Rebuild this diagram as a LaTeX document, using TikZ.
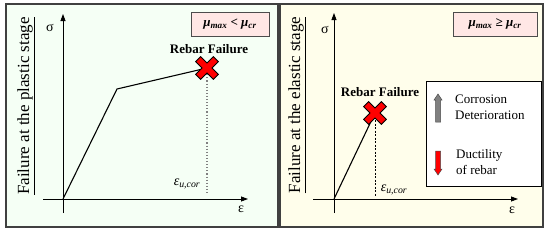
\documentclass[tikz,border=0pt]{standalone}
\usepackage{fontspec}
\setmainfont{Liberation Serif}
\usetikzlibrary{arrows.meta, positioning}

\begin{document}
\begin{tikzpicture}[
    x=1pt, y=-1pt,
    panel/.style={draw=black!75, line width=1.2pt},
    axis/.style={-{Triangle[length=7pt, width=5pt]}, line width=0.8pt},
    curve/.style={line width=1.1pt},
    condbox/.style={draw=black!70, line width=0.9pt, fill=orange!15!red!10, minimum height=24pt, inner sep=0pt, font=\fontsize{13}{15}\selectfont\bfseries\itshape},
    stagelabel/.style={rotate=90, font=\fontsize{17}{20}\selectfont},
    faillabel/.style={font=\fontsize{13}{15}\selectfont\bfseries},
    strainlabel/.style={font=\fontsize{14}{16}\selectfont\itshape},
    axislabel/.style={font=\fontsize{14}{16}\selectfont},
    legendtext/.style={align=left, anchor=west, inner sep=0pt, font=\fontsize{13}{16}\selectfont},
    failmark/.pic={\draw[fill=red, line width=0.9pt, rotate=45]
        (3.5,12.5) -- (-3.5,12.5) -- (-3.5,3.5) -- (-12.5,3.5) -- (-12.5,-3.5) -- (-3.5,-3.5)
        -- (-3.5,-12.5) -- (3.5,-12.5) -- (3.5,-3.5) -- (12.5,-3.5) -- (12.5,3.5) -- (3.5,3.5) -- cycle;},
    % block arrow pointing up (negative y), length given by #1
    blockarrow/.pic={\draw[draw=black!70, line width=0.5pt, pic actions]
        (-2.5,#1) -- (-2.5,-#1+6) -- (-4,-#1+6) -- (0,-#1) -- (4,-#1+6) -- (2.5,-#1+6) -- (2.5,#1) -- cycle;}
]
    \useasboundingbox (0,0) rectangle (550,233);

    % Panels
    \draw[panel, fill=green!4!white] (6,4) rectangle (278,227);
    \draw[panel, fill=yellow!8!white] (280,4) rectangle (543,227);

    % ---------- Left panel: plastic stage ----------
    \node[stagelabel] (stage1) at (26,106) {\underline{Failure at the plastic stage}};

    \coordinate (O1) at (63,199);
    \coordinate (ytop1) at (63,14);
    \coordinate (ybot1) at (63,213);
    \coordinate (xlft1) at (43,199);
    \coordinate (xrgt1) at (248,199);
    \draw[axis] (ybot1) -- (ytop1);
    \draw[axis] (xlft1) -- (xrgt1);
    \node[axislabel] (sig1) at (50,28) {σ};
    \node[axislabel] (eps1) at (241,209) {ε};

    % Stress-strain curve
    \coordinate (Y1) at (117,89);
    \coordinate (F1) at (207,68);
    \coordinate (E1) at (207,193);
    \draw[curve] (O1) -- (Y1) -- (F1);
    \draw[gray, dotted, line width=1.1pt] (F1) -- (E1);
    \pic at (F1) {failmark};

    \node[faillabel] (fail1) at (209,49) {Rebar Failure};
    \node[strainlabel] (eu1) at (187,184) {ε\textsubscript{u,cor}};
    \node[condbox, minimum width=78pt] (cond1) at (230,24) {μ\textsubscript{max} < μ\textsubscript{cr}};

    % ---------- Right panel: elastic stage ----------
    \node[stagelabel] (stage2) at (297,105) {\underline{Failure at the elastic stage}};

    \coordinate (O2) at (334,199);
    \coordinate (ytop2) at (334,13);
    \coordinate (ybot2) at (334,213);
    \coordinate (xlft2) at (313,199);
    \coordinate (xrgt2) at (518,199);
    \draw[axis] (ybot2) -- (ytop2);
    \draw[axis] (xlft2) -- (xrgt2);
    \node[axislabel] (sig2) at (325,30) {σ};
    \node[axislabel] (eps2) at (512,210) {ε};

    % Stress-strain line
    \coordinate (F2) at (375,113);
    \coordinate (E2) at (375,197);
    \draw[curve] (O2) -- (F2);
    \draw[dashed, line width=0.6pt, dash pattern=on 2pt off 1.5pt] (F2) -- (E2);
    \pic at (F2) {failmark};

    \node[faillabel] (fail2) at (380,92) {Rebar Failure};
    \node[strainlabel] (eu2) at (394,190) {ε\textsubscript{u,cor}};
    \node[condbox, minimum width=84pt] (cond2) at (495,24) {μ\textsubscript{max} ≥ μ\textsubscript{cr}};

    % Legend
    \node[draw, line width=1pt, fill=white, minimum width=115pt, minimum height=105pt] (legend) at (483.5,133.5) {};
    \pic[fill=gray] at (438,108) {blockarrow=14};
    \node[legendtext] (corr) at (455,107) {Corrosion\\Deterioration};
    \pic[fill=red, rotate=180] at (438,163) {blockarrow=12};
    \node[legendtext] (duct) at (456,162) {Ductility\\of rebar};
\end{tikzpicture}
\end{document}
